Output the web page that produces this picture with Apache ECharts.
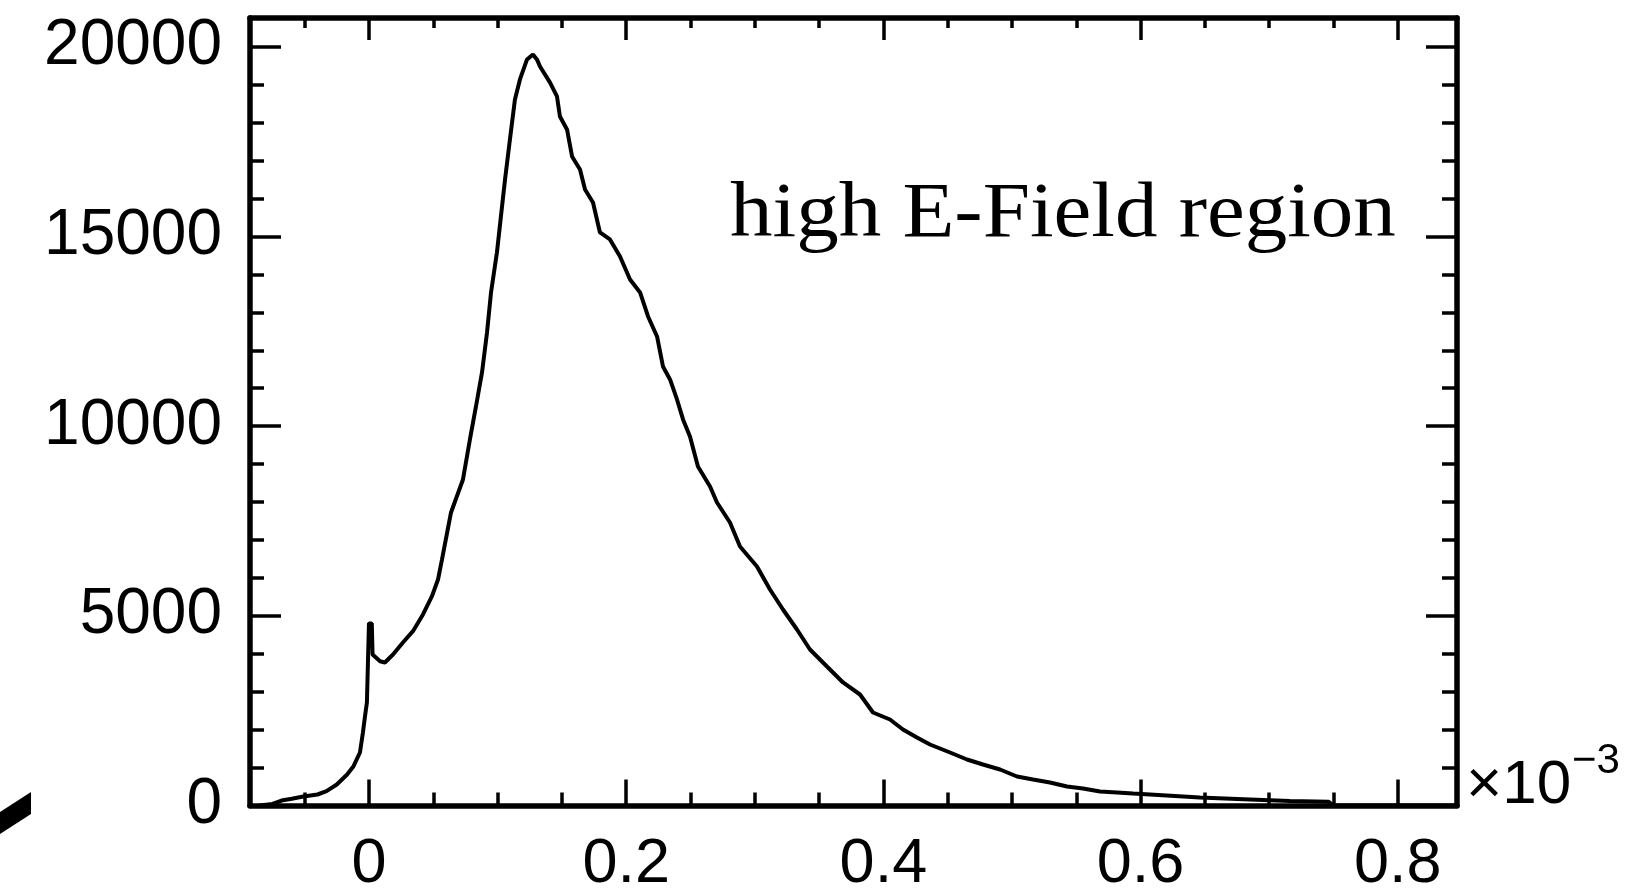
<!DOCTYPE html>
<html>
<head>
<meta charset="utf-8">
<title>high E-Field region</title>
<script src="https://cdn.jsdelivr.net/npm/echarts@6/dist/echarts.min.js"></script>
<style>
  html, body { margin: 0; padding: 0; background: #fff; }
  #chart-container { width: 1629px; height: 889px; }
</style>
</head>
<body>
<div id="chart-container"></div>
<script>
// x in units of 10^-3
const energy = [
  -0.085, -0.075, -0.068, -0.060, -0.051, -0.040, -0.033, -0.025, -0.017, -0.012,
  -0.007, -0.0047, -0.0031, -0.0016, 0.0, 0.0022, 0.0028, 0.0086, 0.0124, 0.0187,
  0.0264, 0.0342, 0.042, 0.049, 0.0537, 0.0568, 0.0638, 0.0731, 0.0785, 0.0832,
  0.0879, 0.0918, 0.0949, 0.0995, 0.1026, 0.1058, 0.1096, 0.1135, 0.1174, 0.1229,
  0.1275, 0.1306, 0.1330, 0.1407, 0.1462, 0.1485, 0.1540, 0.1579, 0.1641, 0.1680,
  0.1742, 0.1796, 0.1874, 0.1952, 0.2030, 0.2108, 0.2170, 0.2240, 0.2286, 0.2341,
  0.2395, 0.2442, 0.2496, 0.2558, 0.2652, 0.2706, 0.2807, 0.2885, 0.3017, 0.3118,
  0.3219, 0.3328, 0.3429, 0.3561, 0.3686, 0.3818, 0.3919, 0.4051, 0.4152, 0.4261,
  0.4362, 0.4518, 0.4650, 0.4774, 0.4907, 0.5039, 0.5163, 0.5295, 0.5428, 0.5552,
  0.5684, 0.5817, 0.5941, 0.6073, 0.646, 0.685, 0.716, 0.746, 0.750, 0.846
];
const counts = [
  0, 40, 130, 180, 237, 290, 377, 554, 817, 1036,
  1397, 1925, 2346, 2716, 4800, 4800, 3981, 3804, 3770, 3981,
  4297, 4595, 5036, 5518, 5958, 6486, 7725, 8595, 9649, 10519,
  11416, 12470, 13525, 14580, 15529, 16504, 17559, 18613, 19140, 19668,
  19800, 19668, 19483, 19062, 18692, 18165, 17822, 17110, 16768, 16240,
  15898, 15107, 14922, 14474, 13868, 13525, 12892, 12365, 11574, 11231,
  10704, 10177, 9729, 8938, 8410, 7988, 7461, 6828, 6301, 5695,
  5167, 4640, 4113, 3665, 3243, 2926, 2452, 2267, 2004, 1793,
  1608, 1397, 1213, 1081, 949, 765, 685, 606, 501, 448,
  369, 343, 316, 290, 210, 160, 120, 100, 0, 0
];

const xMajor = [0, 0.2, 0.4, 0.6, 0.8];
const xMinor = [-0.05, 0.05, 0.1, 0.15, 0.25, 0.3, 0.35, 0.45, 0.5, 0.55, 0.65, 0.7, 0.75];
const yMajor = [0, 5000, 10000, 15000, 20000];
const yMinor = [1000, 2000, 3000, 4000, 6000, 7000, 8000, 9000, 11000, 12000, 13000, 14000,
  16000, 17000, 18000, 19000];

const xMin = -0.0925, xMax = 0.846;
const yMin = 0, yMax = 20760;

var sans = '"Liberation Sans", Arial, sans-serif';
var serif = '"Liberation Serif", "Times New Roman", serif';

// one axis per tick size, ROOT style frame with ticks inside
function xAx(pos, ticks, len, line, labels) {
  return {
    type: "value", position: pos, min: xMin, max: xMax,
    axisLine: { show: line, onZero: false, lineStyle: { color: "#000", width: 5.5 } },
    axisTick: { show: true, inside: true, length: len, customValues: ticks,
      lineStyle: { color: "#000", width: 3.5 } },
    axisLabel: labels ? {
      show: true, customValues: ticks, margin: 28, color: "#000",
      fontSize: 63, fontFamily: sans,
      formatter: function (v) { return String(v); }
    } : { show: false },
    splitLine: { show: false },
  };
}
function yAx(pos, ticks, len, line, labels) {
  return {
    type: "value", position: pos, min: yMin, max: yMax,
    axisLine: { show: line, onZero: false, lineStyle: { color: "#000", width: 5.5 } },
    axisTick: { show: true, inside: true, length: len, customValues: ticks,
      lineStyle: { color: "#000", width: 3.5 } },
    axisLabel: labels ? {
      show: true, customValues: ticks, margin: 28, color: "#000",
      fontSize: 64, fontFamily: sans, padding: [10, 0, 0, 0],
      formatter: function (v) { return String(v); }
    } : { show: false },
    splitLine: { show: false },
  };
}

var dom = document.getElementById("chart-container");
var myChart = echarts.init(dom, null, { renderer: "canvas" });

var option = {
  animation: false,
  backgroundColor: "#fff",
  grid: { left: 250, top: 18, right: 172, bottom: 83.5, containLabel: false, outerBoundsMode: "none" },
  xAxis: [
    xAx("bottom", xMajor, 26, true, true),
    xAx("bottom", xMinor, 13, false, false),
    xAx("top", xMajor, 22, true, false),
    xAx("top", xMinor, 10, false, false),
  ],
  yAxis: [
    yAx("left", yMajor, 31, true, true),
    yAx("left", yMinor, 14, false, false),
    yAx("right", yMajor, 31, true, false),
    yAx("right", yMinor, 15, false, false),
  ],
  series: [
    {
      type: "line",
      xAxisIndex: 0,
      yAxisIndex: 0,
      data: energy.map(function (e, i) { return [e, counts[i]]; }),
      showSymbol: false,
      lineStyle: { color: "#000", width: 4 },
      z: 1,
    },
  ],
  graphic: [
    {
      // the scan stretches this label sideways a little
      type: "text", x: 730, y: 242 - 0.3375 * 78, scaleX: 1.09,
      style: { text: "high E-Field region", fontSize: 78, fontFamily: serif,
        fill: "#000", verticalAlign: "middle", align: "left" },
    },
    {
      type: "text", x: 1466, y: 807 - 0.3465 * 62,
      style: { text: "\u00d710", fontSize: 62, fontFamily: sans, fill: "#000",
        verticalAlign: "middle", align: "left" },
    },
    {
      type: "text", x: 1572, y: 776 - 0.3465 * 42,
      style: { text: "\u22123", fontSize: 42, fontFamily: sans, fill: "#000",
        verticalAlign: "middle", align: "left" },
    },
    {
      // stray stroke in the lower left corner of the scan
      type: "polygon",
      shape: { points: [[0, 812], [31, 792], [31, 814], [0, 834]] },
      style: { fill: "#000" },
    },
  ],
};

myChart.setOption(option);
window.addEventListener("resize", myChart.resize);
</script>
</body>
</html>
